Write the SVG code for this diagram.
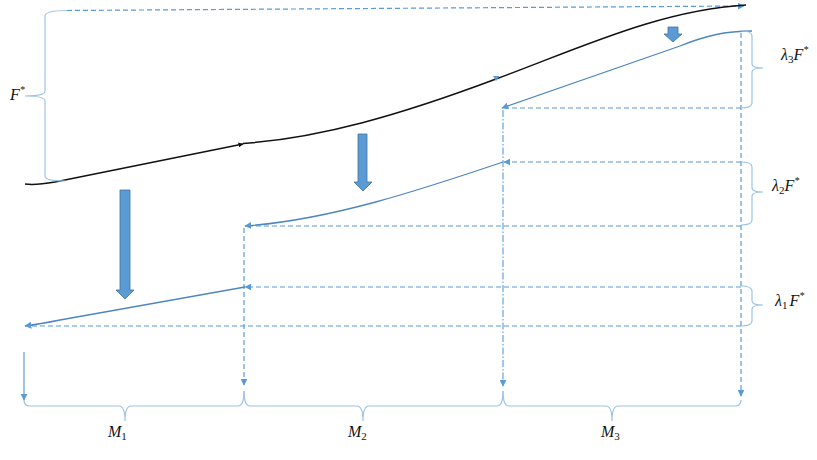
<svg xmlns="http://www.w3.org/2000/svg" width="817" height="460" viewBox="0 0 817 460">
<defs>
<marker id="ah" viewBox="0 0 10 10" refX="9" refY="5" markerWidth="7" markerHeight="7" markerUnits="userSpaceOnUse" orient="auto"><path d="M0,0 L10,5 L0,10 z" fill="#5b9bd5"/></marker>
<marker id="ahk" viewBox="0 0 10 10" refX="9" refY="5" markerWidth="5" markerHeight="5" markerUnits="userSpaceOnUse" orient="auto"><path d="M0,0 L10,5 L0,10 z" fill="#111"/></marker>
</defs>
<style>
.dash{fill:none;stroke:#5b9bd5;stroke-width:1.2;stroke-dasharray:5 3}
.dd{fill:none;stroke:#5b9bd5;stroke-width:1.1;stroke-dasharray:7 2 1.5 2}
.solid{fill:none;stroke:#5b9bd5;stroke-width:1.2}
.brace{fill:none;stroke:#9dc3e6;stroke-width:1.2}
.curve{fill:none;stroke:#4f86c0;stroke-width:1.3}
.black{fill:none;stroke:#111;stroke-width:1.5}
.barrow{fill:#5b9bd5;stroke:#41719c;stroke-width:0.8}
.lbl{font-family:"Liberation Serif",serif;font-style:italic;font-size:16px;fill:#111}
.sub{font-style:normal;font-size:11px}
</style>

<g id="connectors">
  <path class="dash" d="M67,10.5 L744,6" marker-end="url(#ah)"/>
  <path class="dash" d="M741,108 L505,108"/>
  <path class="dash" d="M741,162 L504,162" marker-end="url(#ah)"/>
  <path class="dash" d="M741,226 L247,226"/>
  <path class="dash" d="M741,287 L245,287" marker-end="url(#ah)"/>
  <path class="dash" d="M741,326 L30,326"/>
  <path class="solid" d="M24,352 L24,400" marker-end="url(#ah)"/>
  <path class="dash" d="M244,228 L244,385" marker-end="url(#ah)"/>
  <path class="dd" d="M503,110 L503,386" marker-end="url(#ah)"/>
  <path class="dash" d="M741,33 L741,396" marker-end="url(#ah)"/>
</g>

<g id="black-curve">
  <path class="black" d="M25,184 Q35,185.5 55,182 L243,144" marker-end="url(#ahk)"/>
  <path class="black" d="M243,143.5 C320,138 400,115 496,79 C580,48 660,10 746,5"/>
  <polygon points="493,76 499.5,76 496,81" fill="#5b9bd5"/>
</g>

<g id="curve-3">
  <path class="curve" d="M752,31 C725,31 705,36 680,46 L502,108" marker-end="url(#ah)"/>
</g>
<g id="curve-2">
  <path class="curve" d="M503,162 C420,190 330,220 245,226" marker-end="url(#ah)"/>
</g>
<g id="curve-1">
  <path class="curve" d="M245,287 L60,320 Q40,324 25,326" marker-end="url(#ah)"/>
</g>

<g id="block-arrows">
  <polygon class="barrow" points="120,190 130,190 130,290 134,290 125,299 116,290 120,290"/>
  <polygon class="barrow" points="358,134 367,134 367,182 372,182 363,191 354,182 358,182"/>
  <polygon class="barrow" points="668,27 678,27 678,34 682,34 673,42 664,34 668,34"/>
</g>

<g id="brace-F">
  <path class="brace" d="M67,10.5 Q45,10.5 45,16 L45,91 Q45,96 25,96 Q45,96 45,101 L45,176 Q45,181 65,181"/>
  <text class="lbl" x="10" y="100">F<tspan font-size="10" dy="-7">*</tspan></text>
</g>
<g id="brace-l3">
  <path class="brace" d="M741,31 Q752,31 752,36 L752,64 Q752,68 763,68 Q752,68 752,72 L752,103 Q752,108 741,108"/>
  <text class="lbl" x="781" y="60">λ<tspan class="sub" dy="3">3</tspan><tspan dy="-3">F</tspan><tspan font-size="10" dy="-7">*</tspan></text>
</g>
<g id="brace-l2">
  <path class="brace" d="M741,162 Q752,162 752,167 L752,188 Q752,192 763,192 Q752,192 752,196 L752,220 Q752,225 741,225"/>
  <text class="lbl" x="772" y="191">λ<tspan class="sub" dy="3">2</tspan><tspan dy="-3">F</tspan><tspan font-size="10" dy="-7">*</tspan></text>
</g>
<g id="brace-l1">
  <path class="brace" d="M741,286 Q752,286 752,291 L752,301 Q752,305 763,305 Q752,305 752,309 L752,321 Q752,326 741,326"/>
  <text class="lbl" x="775" y="306">λ<tspan class="sub" dy="3">1</tspan><tspan dy="-3" dx="2">F</tspan><tspan font-size="10" dy="-7">*</tspan></text>
</g>

<g id="brace-M1">
  <path class="brace" d="M24,400 Q24,406 30,406 L119,406 Q125,406 125,421 Q125,406 131,406 L238,406 Q244,406 244,391"/>
  <text class="lbl" x="108" y="437" font-size="16">M<tspan class="sub" dy="3">1</tspan></text>
</g>
<g id="brace-M2">
  <path class="brace" d="M244,391 Q244,406 250,406 L357,406 Q363,406 363,421 Q363,406 369,406 L497,406 Q503,406 503,391"/>
  <text class="lbl" x="348" y="437" font-size="16">M<tspan class="sub" dy="3">2</tspan></text>
</g>
<g id="brace-M3">
  <path class="brace" d="M503,391 Q503,406 509,406 L606,406 Q612,406 612,421 Q612,406 618,406 L735,406 Q741,406 741,400"/>
  <text class="lbl" x="601" y="437" font-size="16">M<tspan class="sub" dy="3">3</tspan></text>
</g>
</svg>
